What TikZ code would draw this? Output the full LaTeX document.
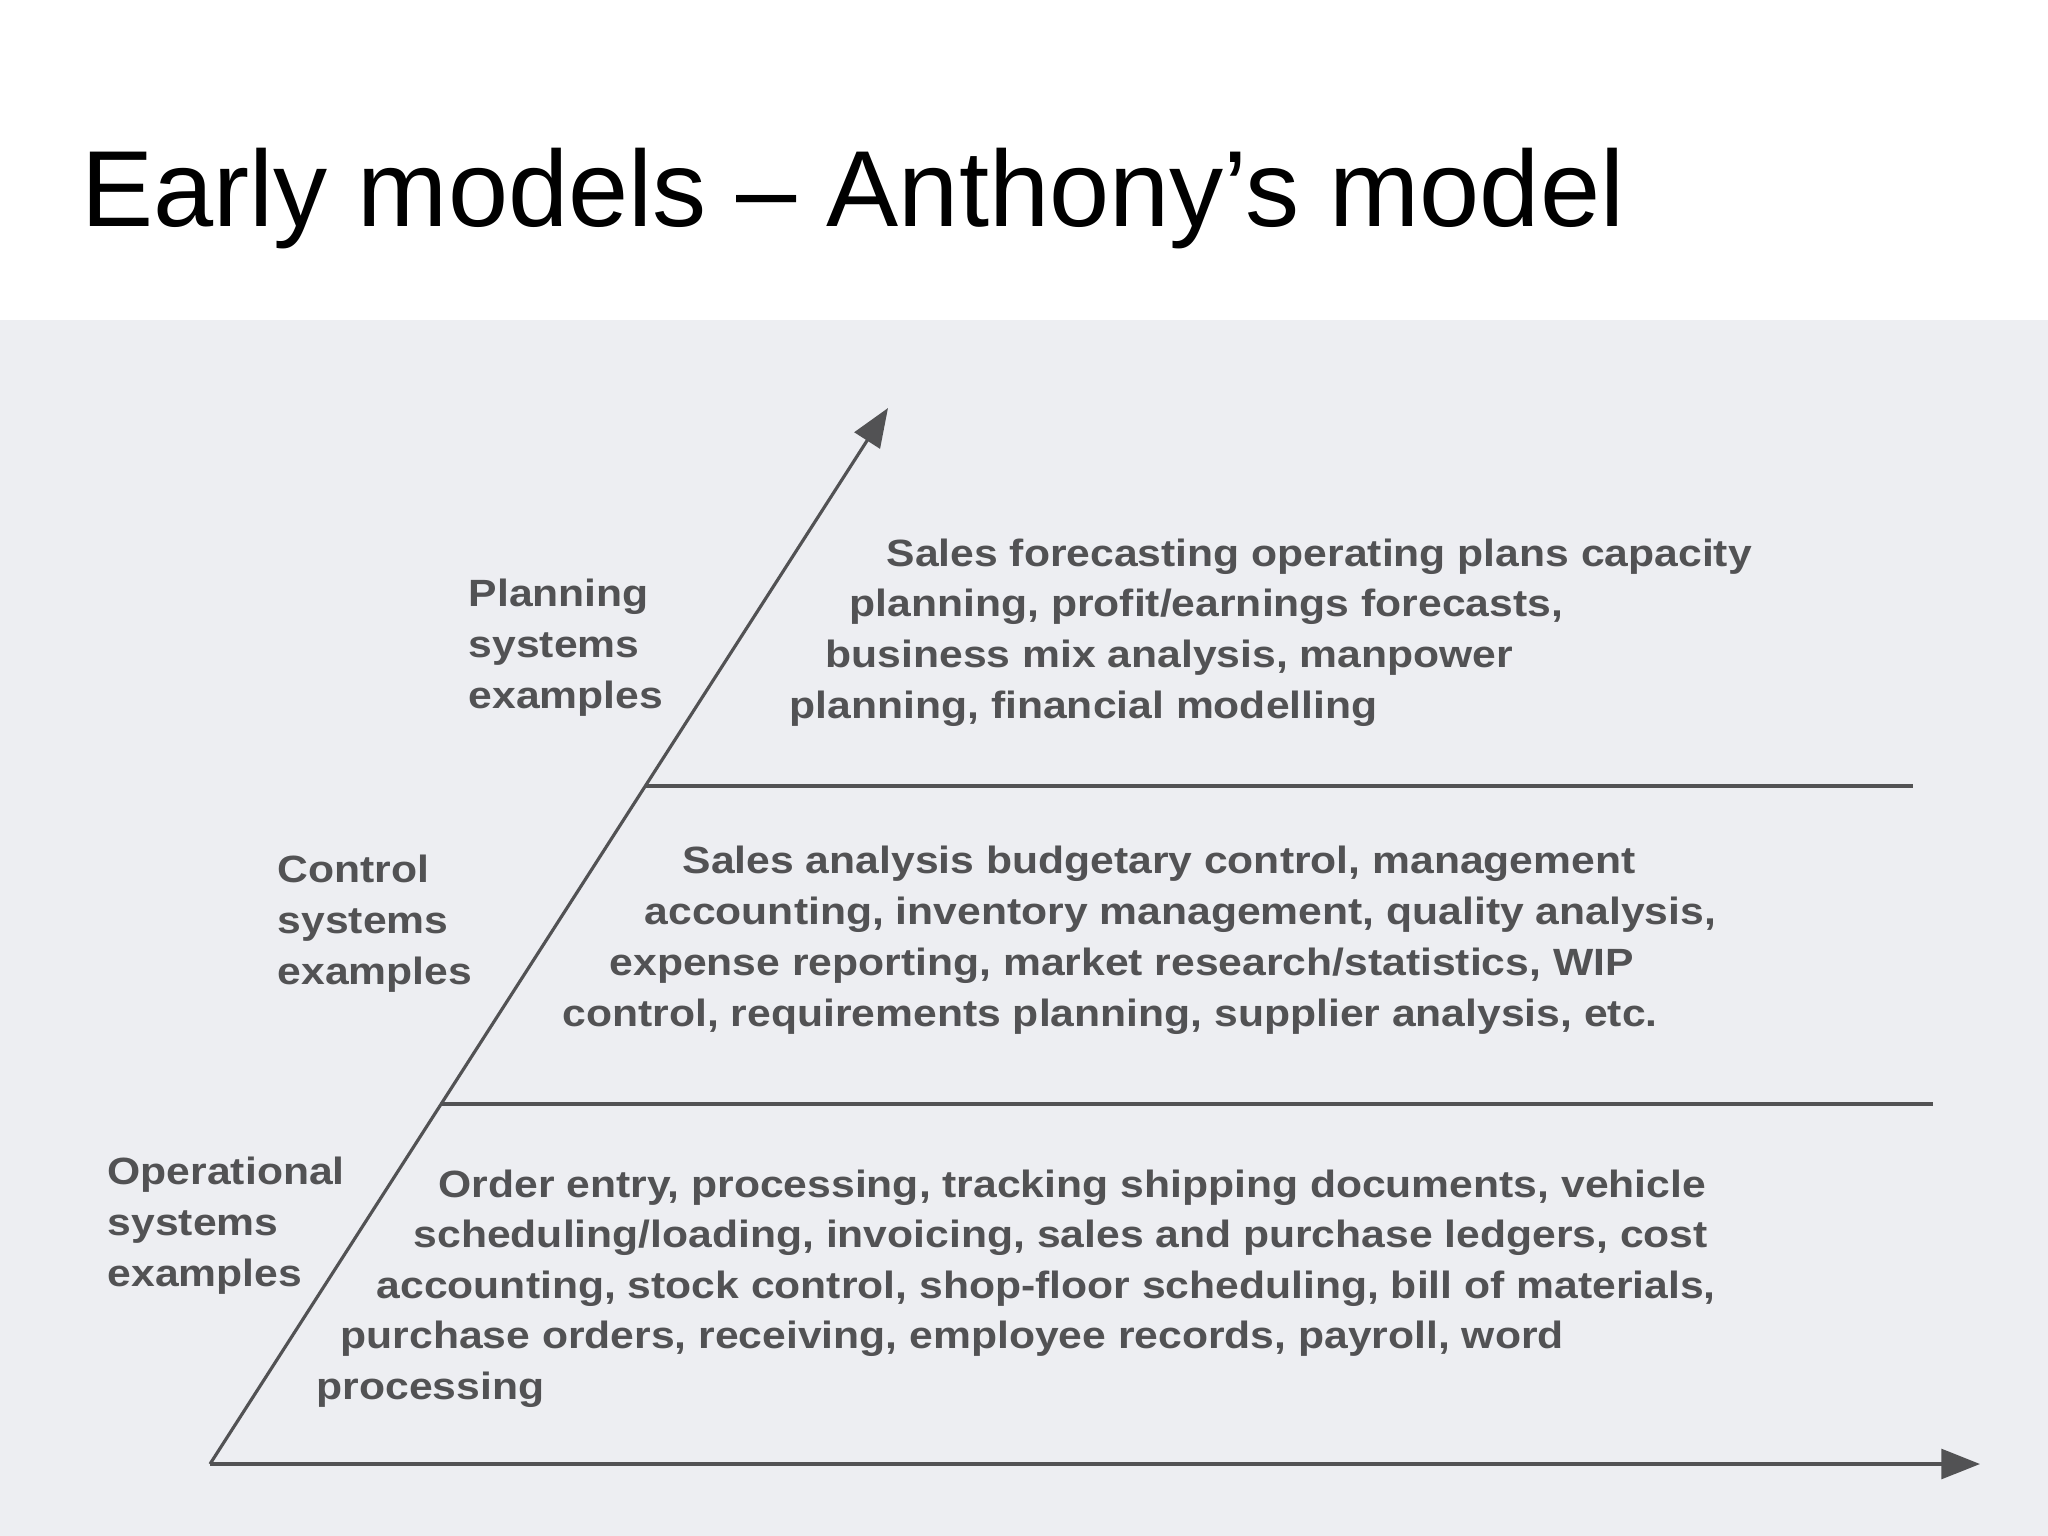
\documentclass[tikz,border=0pt]{standalone}
\usepackage{fontspec}
\setmainfont{Liberation Sans}
\newfontfamily\scanfont[FakeStretch=1.123]{Liberation Sans}
\usetikzlibrary{arrows.meta}
\definecolor{paper}{rgb}{0.93,0.935,0.95}
\definecolor{ink}{rgb}{0.32,0.32,0.33}

\begin{document}
\begin{tikzpicture}[x=0.01cm,y=-0.01cm,
    txt/.style={anchor=base west,inner sep=0pt,text=ink,font=\scanfont\bfseries\fontsize{10.8}{14.4}\selectfont},
    lbl/.style={txt,align=left},
    axis/.style={draw=ink,line width=0.9pt,-{Triangle[length=11pt,width=8.5pt]}},
    level/.style={draw=ink,line width=0.9pt}]
    \useasboundingbox (0,0) rectangle (2048,1536);
    \fill[white] (0,0) rectangle (2048,320);
    \fill[paper] (0,320) rectangle (2048,1536);
    \node[anchor=base west,inner sep=0pt,font=\fontsize{30.75}{37}\selectfont] (title) at (81,226) {Early models -- Anthony's model};

    \coordinate (origin) at (210,1464);
    \coordinate (ytip) at (888,408);
    \coordinate (xtip) at (1980,1464);
    \coordinate (top-l) at (645,786);
    \coordinate (top-r) at (1913,786);
    \coordinate (mid-l) at (441,1104);
    \coordinate (mid-r) at (1933,1104);
    \draw[axis] (origin) -- (ytip);
    \draw[axis] (origin) -- (xtip);
    \draw[level] (top-l) -- (top-r);
    \draw[level] (mid-l) -- (mid-r);

    \node[lbl] (planning) at (468,708) {Planning\\systems\\examples};
    \node[lbl] (control) at (277,984) {Control\\systems\\examples};
    \node[lbl] (operational) at (107,1286) {Operational\\systems\\examples};

    \node[txt] (plan1) at (886,566) {Sales forecasting operating plans capacity};
    \node[txt] (plan2) at (849,616) {planning, profit/earnings forecasts,};
    \node[txt] (plan3) at (825,667) {business mix analysis, manpower};
    \node[txt] (plan4) at (789,718) {planning, financial modelling};

    \node[txt] (ctrl1) at (682,873) {Sales analysis budgetary control, management};
    \node[txt] (ctrl2) at (644,924) {accounting, inventory management, quality analysis,};
    \node[txt] (ctrl3) at (609,975) {expense reporting, market research/statistics, WIP};
    \node[txt] (ctrl4) at (562,1026) {control, requirements planning, supplier analysis, etc.};

    \node[txt] (oper1) at (438,1197) {Order entry, processing, tracking shipping documents, vehicle};
    \node[txt] (oper2) at (413,1247) {scheduling/loading, invoicing, sales and purchase ledgers, cost};
    \node[txt] (oper3) at (376,1298) {accounting, stock control, shop-floor scheduling, bill of materials,};
    \node[txt] (oper4) at (340,1348) {purchase orders, receiving, employee records, payroll, word};
    \node[txt] (oper5) at (316,1399) {processing};
\end{tikzpicture}
\end{document}
